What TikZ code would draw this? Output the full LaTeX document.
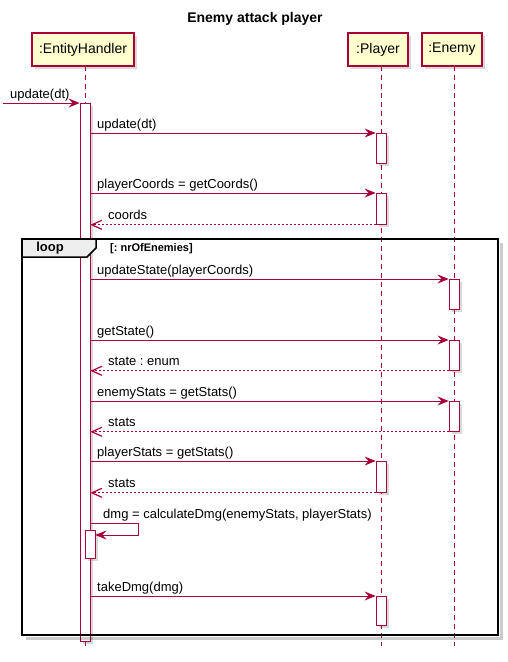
\documentclass[tikz,border=0pt]{standalone}
\usepackage{fontspec}
\setmainfont{Liberation Sans}
\usetikzlibrary{arrows.meta,shadows}
\definecolor{seqline}{HTML}{A80036}
\definecolor{partfill}{HTML}{FEFECE}
\definecolor{tabfill}{HTML}{EEEEEE}

\begin{document}
\frenchspacing
\begin{tikzpicture}[x=1pt,y=-1pt,
  softshadow/.style={drop shadow={shadow xshift=3pt,shadow yshift=-3pt,opacity=0.25,fill=black!60}},
  part/.style={draw=seqline,line width=1.2pt,fill=partfill,minimum height=33pt,
    inner sep=0pt,font=\fontsize{14}{16}\selectfont,softshadow},
  lifeline/.style={draw=seqline,line width=0.8pt,dash pattern=on 5pt off 4pt},
  act/.style={draw=seqline,fill=white,line width=0.8pt,minimum width=10pt,
    inner sep=0pt,anchor=north,softshadow},
  msg/.style={draw=seqline,line width=0.8pt,-{Stealth[length=11pt,width=9pt,inset=4pt]}},
  ret/.style={draw=seqline,line width=0.8pt,dash pattern=on 2pt off 2pt,
    -{Straight Barb[length=10pt,width=9pt,line width=1.2pt]}},
  lbl/.style={anchor=base west,inner sep=0pt,font=\fontsize{13}{15}\selectfont},
  frame/.style={draw=black,line width=2pt},
  frameshadow/.style={draw=black,opacity=0.2,line width=3pt},
]
\useasboundingbox (0,0) rectangle (507,662);

% title
\node[font=\bfseries\fontsize{14}{16}\selectfont] (title) at (255,19) {Enemy attack player};

% participants
\node[part,minimum width=102pt] (eh) at (83,49.5) {:EntityHandler};
\node[part,minimum width=60pt] (pl) at (378,49.5) {:Player};
\node[part,minimum width=60pt] (en) at (452,49.5) {:Enemy};

% lifelines
\coordinate (ehTop) at (85,66);   \coordinate (ehBot) at (85,646);
\coordinate (plTop) at (381,66);  \coordinate (plBot) at (381,646);
\coordinate (enTop) at (454,66);  \coordinate (enBot) at (454,646);
\draw[lifeline] (ehTop) -- (ehBot);
\draw[lifeline] (plTop) -- (plBot);
\draw[lifeline] (enTop) -- (enBot);

% activations
\node[act,minimum height=538pt] (aEH) at (85,103) {};
\node[act,minimum height=30pt] (aP1) at (381,133) {};
\node[act,minimum height=31pt] (aP2) at (381,193) {};
\node[act,minimum height=30pt] (aE1) at (454,279) {};
\node[act,minimum height=30pt] (aE2) at (454,340) {};
\node[act,minimum height=30pt] (aE3) at (454,401) {};
\node[act,minimum height=31pt] (aP3) at (381,461) {};
\node[act,minimum height=28pt] (aEH2) at (90,530) {};
\node[act,minimum height=29pt] (aP4) at (381,596) {};

% incoming call
\coordinate (src) at (3,103);
\draw[msg] (src) -- (aEH.north west);
\node[lbl] (l0) at (10,98) {update(dt)};

% calls and returns
\draw[msg] (aEH.east |- aP1.north) -- (aP1.north west);
\node[lbl] (l1) at (97,128) {update(dt)};

\draw[msg] (aEH.east |- aP2.north) -- (aP2.north west);
\node[lbl] (l2) at (97,188) {playerCoords = getCoords()};
\draw[ret] (aP2.south west) -- (aEH.east |- aP2.south);
\node[lbl] (l3) at (108,219) {coords};

\draw[msg] (aEH.east |- aE1.north) -- (aE1.north west);
\node[lbl] (l4) at (97,274) {updateState(playerCoords)};

\draw[msg] (aEH.east |- aE2.north) -- (aE2.north west);
\node[lbl] (l5) at (97,335) {getState()};
\draw[ret] (aE2.south west) -- (aEH.east |- aE2.south);
\node[lbl] (l6) at (108,365) {state : enum};

\draw[msg] (aEH.east |- aE3.north) -- (aE3.north west);
\node[lbl] (l7) at (97,396) {enemyStats = getStats()};
\draw[ret] (aE3.south west) -- (aEH.east |- aE3.south);
\node[lbl] (l8) at (108,426) {stats};

\draw[msg] (aEH.east |- aP3.north) -- (aP3.north west);
\node[lbl] (l9) at (97,456) {playerStats = getStats()};
\draw[ret] (aP3.south west) -- (aEH.east |- aP3.south);
\node[lbl] (l10) at (108,487) {stats};

% self call
\coordinate (selfA) at (138,523);
\coordinate (selfB) at (138,535);
\draw[msg] (aEH.east |- selfA) -- (selfA) -- (selfB) -- (aEH2.east |- selfB);
\node[lbl] (l11) at (103,518) {dmg = calculateDmg(enemyStats, playerStats)};

\draw[msg] (aEH.east |- aP4.north) -- (aP4.north west);
\node[lbl] (l12) at (97,591) {takeDmg(dmg)};

% loop fragment
\draw[frameshadow] (26,638.5) -- (501.5,638.5) -- (501.5,243);
\draw[frame] (22,239) rectangle (498,635);
\draw[draw=black,line width=1.5pt,fill=tabfill]
  (22,239) -- (96,239) -- (96,248) -- (87,257) -- (22,257) -- cycle;
\node[font=\bfseries\fontsize{13}{15}\selectfont,inner sep=0pt] (loopname) at (50,248.5) {loop};
\node[font=\bfseries\fontsize{11}{13}\selectfont,anchor=west,inner sep=0pt] (loopcond) at (110,249) {[: nrOfEnemies]};
\end{tikzpicture}
\end{document}
